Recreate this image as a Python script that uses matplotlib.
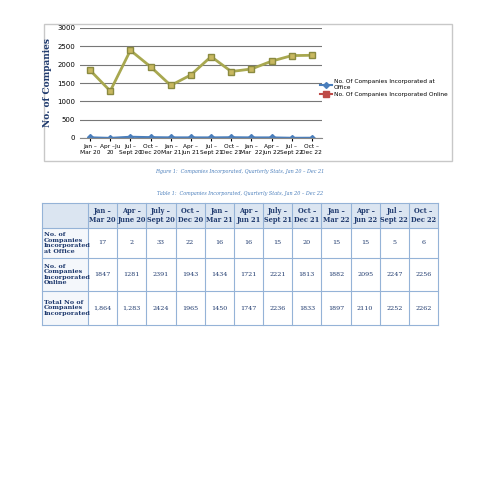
import matplotlib.pyplot as plt
from matplotlib.lines import Line2D
from matplotlib.patches import Rectangle

quarters = ["Jan –\nMar 20", "Apr –Ju\n20", "Jul –\nSept 20", "Oct –\nDec 20", "Jan –\nMar 21",
            "Apr –\nJun 21", "Jul –\nSept 21", "Oct –\nDec 21", "Jan –\nMar  22", "Apr –\nJun 22",
            "Jul –\nSept 22", "Oct –\nDec 22"]
table_headers = ["Jan –\nMar 20", "Apr –\nJune 20", "July –\nSept 20", "Oct –\nDec 20", "Jan –\nMar 21",
                 "Apr –\nJun 21", "July –\nSept 21", "Oct –\nDec 21", "Jan –\nMar 22", "Apr –\nJun 22",
                 "Jul –\nSept 22", "Oct –\nDec 22"]
office = [17, 2, 33, 22, 16, 16, 15, 20, 15, 15, 5, 6]
online = [1847, 1281, 2391, 1943, 1434, 1721, 2221, 1813, 1882, 2095, 2247, 2256]
total_labels = ["1,864", "1,283", "2424", "1965", "1450", "1747", "2236", "1833", "1897", "2110", "2252", "2262"]
row_labels = ["No. of\nCompanies\nIncorporated\nat Office", "No. of\nCompanies\nIncorporated\nOnline",
              "Total No of\nCompanies\nIncorporated"]

blue = "#4a7ebb"
olive = "#a8a850"
navy = "#1f3a6e"

fig = plt.figure(figsize=(4.8, 4.8), dpi=100)

# page overlay in pixel coordinates
page = fig.add_axes([0, 0, 1, 1])
page.set_xlim(0, 480)
page.set_ylim(480, 0)
page.axis("off")
page.add_patch(Rectangle((44, 24), 408, 137, fill=False, edgecolor="#c8c8c8", lw=1))

ax = fig.add_axes([80 / 480, 1 - 138 / 480, 242 / 480, 110 / 480])
x = range(len(quarters))
ax.plot(x, office, color=blue, marker="D", markersize=3, lw=1.5)
ax.plot(x, online, color=olive, marker="s", markersize=4.5, markerfacecolor="#c8b860",
        markeredgecolor="#8a8a40", lw=2)
ax.set_ylim(0, 3000)
ax.set_yticks(range(0, 3001, 500))
ax.set_xlim(-0.5, len(quarters) - 0.5)
ax.set_xticks(list(x))
ax.set_xticklabels(quarters, fontsize=4.2, linespacing=1.4)
ax.tick_params(axis="y", labelsize=5, length=0)
ax.tick_params(axis="x", length=2, pad=2)
ax.grid(axis="y", color="#777777", lw=0.8)
ax.set_axisbelow(True)
for s in ["top", "right", "left"]:
    ax.spines[s].set_visible(False)
ax.spines["bottom"].set_color("#888888")
ax.set_ylabel("No. of Companies", fontsize=6.5, family="DejaVu Serif", fontweight="bold", color=navy)

handles = [Line2D([], [], color=blue, marker="D", markersize=3, lw=1.5),
           Line2D([], [], color="#be4b48", marker="s", markersize=4, lw=1.5)]
fig.legend(handles, ["No. Of Companies Incorporated at\nOffice", "No. Of Companies Incorporated Online"],
           loc="upper left", bbox_to_anchor=(315 / 480, 1 - 74 / 480), fontsize=4.2,
           frameon=False, handlelength=2, handletextpad=0.3, labelspacing=0.4)

page.text(240, 171, "Figure 1:  Companies Incorporated, Quarterly Stats, Jan 20 – Dec 21", fontsize=3.5,
          style="italic", family="DejaVu Serif", color=blue, ha="center", va="center")
page.text(240, 194, "Table 1:  Companies Incorporated, Quarterly Stats, Jan 20 – Dec 22", fontsize=3.5,
          style="italic", family="DejaVu Serif", color=blue, ha="center", va="center")

# table
col_x = [42, 88] + [88 + 29.17 * (i + 1) for i in range(12)]
row_y = [203, 228, 258, 291, 325]
page.add_patch(Rectangle((42, 203), 396, 25, facecolor="#dbe5f1", edgecolor="none"))
page.add_patch(Rectangle((42, 228), 46, 97, facecolor="#f4f7fb", edgecolor="none"))
for xv in col_x:
    page.plot([xv, xv], [row_y[0], row_y[-1]], color="#95b3d7", lw=0.8)
for yv in row_y:
    page.plot([col_x[0], col_x[-1]], [yv, yv], color="#95b3d7", lw=0.8)

cell_font = dict(family="DejaVu Serif", color=navy, ha="center", va="center")
for i, h in enumerate(table_headers):
    cx = (col_x[i + 1] + col_x[i + 2]) / 2
    page.text(cx, 215.5, h, fontsize=4.8, fontweight="bold", linespacing=1.1, **cell_font)
rows = [[str(v) for v in office], [str(v) for v in online], total_labels]
for r, (lab, vals) in enumerate(zip(row_labels, rows)):
    cy = (row_y[r + 1] + row_y[r + 2]) / 2
    page.text(44, cy, lab, fontsize=4.6, fontweight="bold", family="DejaVu Serif", color=navy,
              ha="left", va="center", linespacing=1.1)
    for i, v in enumerate(vals):
        cx = (col_x[i + 1] + col_x[i + 2]) / 2
        page.text(cx, cy, v, fontsize=4.6, **cell_font)

fig.savefig("out.png", dpi=100)
